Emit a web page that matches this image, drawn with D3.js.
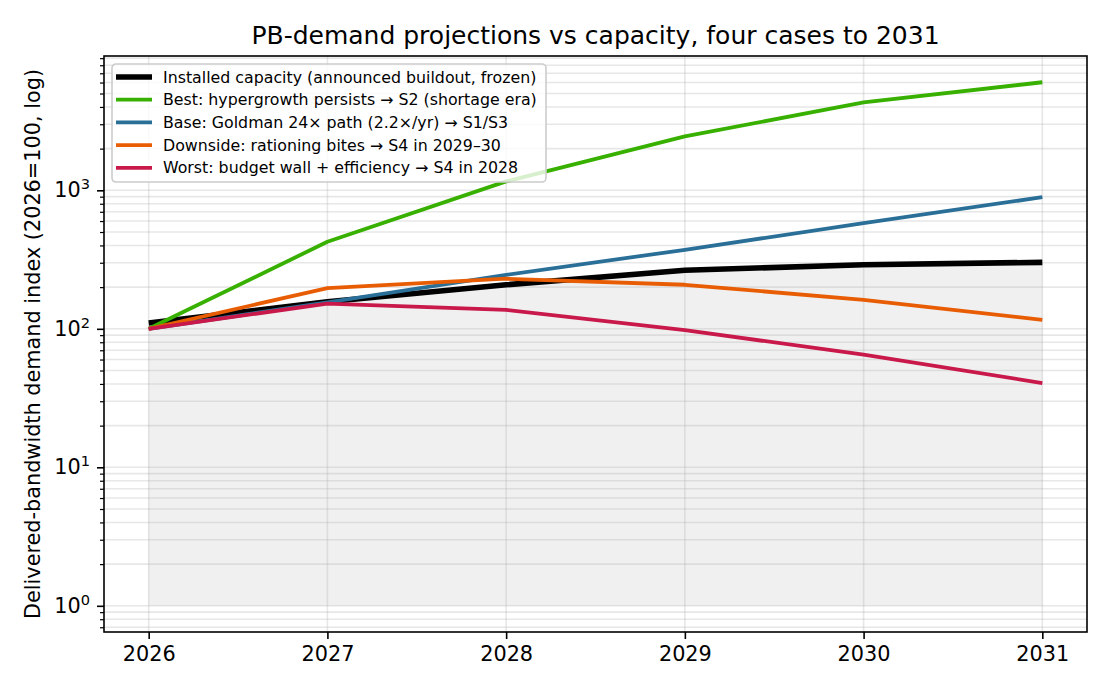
<!DOCTYPE html>
<html>
<head>
<meta charset="utf-8">
<script src="https://cdn.jsdelivr.net/npm/d3@7"></script>
<style>
  body { margin: 0; background: #fff; }
  svg { font-family: "DejaVu Sans", sans-serif; }
</style>
</head>
<body>
<svg id="chart" width="1110" height="690"></svg>
<script>
// data
var years = [2026, 2027, 2028, 2029, 2030, 2031];
var capacity = [110, 157, 208, 265, 290, 302];
var best = [100, 425, 1160, 2450, 4310, 6030];
var base = [100, 155, 245, 372, 579, 893];
var downside = [100, 197, 230, 208, 162, 116];
var worst = [100, 152, 137, 98, 65, 40.6];
var seriesNames = [
  "Installed capacity (announced buildout, frozen)",
  "Best: hypergrowth persists \u2192 S2 (shortage era)",
  "Base: Goldman 24\u00d7 path (2.2\u00d7/yr) \u2192 S1/S3",
  "Downside: rationing bites \u2192 S4 in 2029\u201330",
  "Worst: budget wall + efficiency \u2192 S4 in 2028"
];
var seriesColors = ["#000000", "#38b000", "#2a6f97", "#e85d04", "#c9184a"];
var seriesWidths = [5.6, 3.8, 3.8, 3.8, 3.8];
var yMajor = [1, 10, 100, 1000];

var svg = d3.select("#chart");
var L = 104, R = 1087, T = 56, B = 632;

var x = d3.scaleLinear().domain([2025.75, 2031.25]).range([L, R]);
var y = d3.scaleLog().domain([0.647, 9330]).range([B, T]);

var series = [capacity, best, base, downside, worst];

// minor tick values 2..9 x 10^k inside domain
var yMinor = [];
[0.1, 1, 10, 100, 1000].forEach(function (p) {
  for (var k = 2; k <= 9; k++) {
    var v = p * k;
    if (v >= y.domain()[0] && v <= y.domain()[1]) yMinor.push(v);
  }
});

// fill under capacity, down to 1
var area = d3.area().x(function (d, i) { return x(years[i]); }).y0(y(1)).y1(function (d) { return y(d); });
svg.append("path").datum(capacity).attr("d", area).attr("fill", "#f0f0f0");

// grid
var grid = svg.append("g");
grid.selectAll("line.vx").data(years).enter().append("line")
  .attr("x1", function (d) { return x(d); }).attr("x2", function (d) { return x(d); })
  .attr("y1", T).attr("y2", B).attr("stroke", "#b0b0b0").attr("stroke-opacity", 0.3).attr("stroke-width", 1.6);
grid.selectAll("line.hy").data(yMajor.concat(yMinor)).enter().append("line")
  .attr("x1", L).attr("x2", R)
  .attr("y1", function (d) { return y(d); }).attr("y2", function (d) { return y(d); })
  .attr("stroke", "#b0b0b0").attr("stroke-opacity", 0.3).attr("stroke-width", 1.6);

// lines
var line = d3.line().x(function (d, i) { return x(years[i]); }).y(function (d) { return y(d); });
series.forEach(function (s, i) {
  svg.append("path").datum(s).attr("d", line).attr("fill", "none")
    .attr("stroke", seriesColors[i]).attr("stroke-width", seriesWidths[i])
    .attr("stroke-linejoin", "round").attr("stroke-linecap", "butt");
});

// axes
var xAxis = d3.axisBottom(x).tickValues(years).tickFormat(d3.format("d")).tickSize(7).tickPadding(7);
var gx = svg.append("g").attr("transform", "translate(0," + B + ")").call(xAxis);
gx.select(".domain").remove();
gx.selectAll("text").attr("font-size", 20.8).attr("fill", "#000").attr("font-family", "DejaVu Sans");
gx.selectAll("line").attr("stroke", "#000").attr("stroke-width", 1.6);

var yAxis = d3.axisLeft(y).tickValues(yMajor).tickSize(7).tickPadding(7).tickFormat("");
var gy = svg.append("g").attr("transform", "translate(" + L + ",0)").call(yAxis);
gy.select(".domain").remove();
gy.selectAll("line").attr("stroke", "#000").attr("stroke-width", 1.6);
gy.selectAll(".tick").each(function (d) {
  var t = d3.select(this).select("text").attr("font-size", 20.8).attr("fill", "#000").attr("font-family", "DejaVu Sans");
  t.text("10");
  t.append("tspan").attr("dy", -8).attr("font-size", 14.6).text(Math.round(Math.log10(d)));
});
var yAxisMinor = d3.axisLeft(y).tickValues(yMinor).tickSize(4).tickFormat("");
var gym = svg.append("g").attr("transform", "translate(" + L + ",0)").call(yAxisMinor);
gym.select(".domain").remove();
gym.selectAll("line").attr("stroke", "#000").attr("stroke-width", 1.2);

// frame
svg.append("rect").attr("x", L).attr("y", T).attr("width", R - L).attr("height", B - T)
  .attr("fill", "none").attr("stroke", "#000").attr("stroke-width", 1.6);

// title & labels
svg.append("text").attr("x", (L + R) / 2).attr("y", 44).attr("text-anchor", "middle")
  .attr("font-size", 25).text("PB-demand projections vs capacity, four cases to 2031");
svg.append("text").attr("transform", "translate(40," + (T + B) / 2 + ") rotate(-90)")
  .attr("text-anchor", "middle").attr("font-size", 20.8)
  .text("Delivered-bandwidth demand index (2026=100, log)");

// legend
var lg = svg.append("g").attr("transform", "translate(112,64)");
lg.append("rect").attr("width", 434).attr("height", 118).attr("rx", 4)
  .attr("fill", "#fff").attr("fill-opacity", 0.8).attr("stroke", "#cccccc").attr("stroke-width", 1.6);
seriesNames.forEach(function (name, i) {
  var cy = 13 + i * 22.7;
  lg.append("line").attr("x1", 4).attr("x2", 40).attr("y1", cy).attr("y2", cy)
    .attr("stroke", seriesColors[i]).attr("stroke-width", seriesWidths[i]);
  lg.append("text").attr("x", 51).attr("y", cy).attr("dy", "0.36em")
    .attr("font-size", 15.8).text(name);
});
</script>
</body>
</html>
